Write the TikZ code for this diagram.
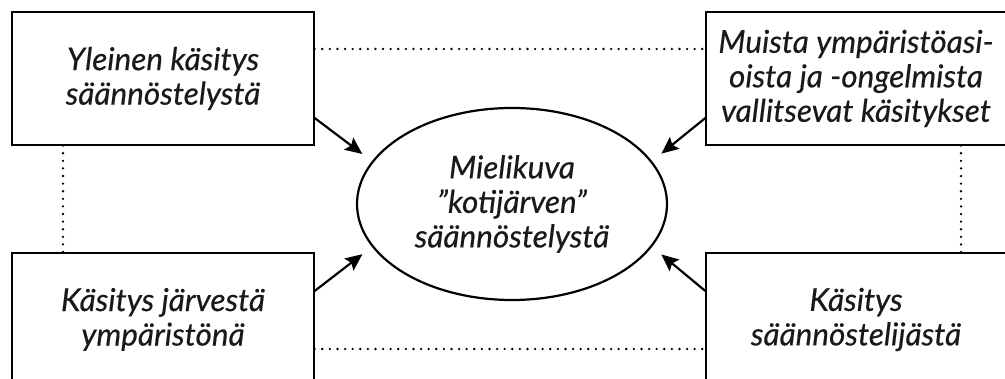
\documentclass[tikz,border=0pt]{standalone}
\usepackage{fontspec}
\setmainfont{Lato}[ItalicFeatures = {FakeBold = 0.4}]
\usetikzlibrary{arrows.meta, shapes.geometric}

\begin{document}
\begin{tikzpicture}[x = 1pt, y = -1pt,
		teksti/.style = {font = \fontsize{31.5}{34.5}\selectfont\itshape, align = center, text = black!90},
		laatikko/.style = {teksti, draw, line width = 1.3pt, minimum height = 133pt, inner sep = 0pt},
		nuoli/.style = {line width = 2.2pt, -{Stealth[length = 17pt, width = 15pt, inset = 3pt]}, shorten > = 12pt},
		pisteet/.style = {line width = 2.6pt, dash pattern = on 0pt off 7.6pt, line cap = round}]
		\path [use as bounding box, clip] (0, 0) rectangle (1005, 379);
		%%%%%%%%%%%%%
		\node [laatikko, minimum width = 302pt] (yleinen) at (163, 78.5) {Yleinen käsitys\\säännöstelystä};
		\node [laatikko, minimum width = 300pt] (muista) at (856, 78.5) {Muista ympäristöasi-\\oista ja -ongelmista\\vallitsevat käsitykset};
		\node [laatikko, minimum width = 302pt] (jarvi) at (163, 319.5) {Käsitys järvestä\\ympäristönä};
		\node [laatikko, minimum width = 300pt] (saant) at (856, 319.5) {Käsitys\\säännöstelijästä};
		\node [teksti, ellipse, draw, line width = 2.2pt, minimum width = 310pt, minimum height = 192pt, inner sep = 0pt] (kuva) at (512, 204) {Mielikuva\\”kotijärven”\\säännöstelystä};
		%%%%%%%%%%%%%
		\draw [pisteet] ([yshift = 29.5pt]yleinen.east) to ([yshift = 29.5pt]muista.west);
		\draw [pisteet] ([yshift = -29.5pt]jarvi.east) to ([yshift = -29.5pt]saant.west);
		\draw [pisteet] ([xshift = -100pt]yleinen.south) to ([xshift = -100pt]jarvi.north);
		\draw [pisteet] ([xshift = 105pt]muista.south) to ([xshift = 105pt]saant.north);
		%%%%%%%%%%%%%
		\draw [nuoli] ([yshift = -39.5pt]yleinen.east) to (kuva.163);
		\draw [nuoli] ([yshift = -39.5pt]muista.west) to (kuva.17);
		\draw [nuoli] ([yshift = 28.5pt]jarvi.east) to (kuva.197);
		\draw [nuoli] ([yshift = 28.5pt]saant.west) to (kuva.343);
\end{tikzpicture}
\end{document}
